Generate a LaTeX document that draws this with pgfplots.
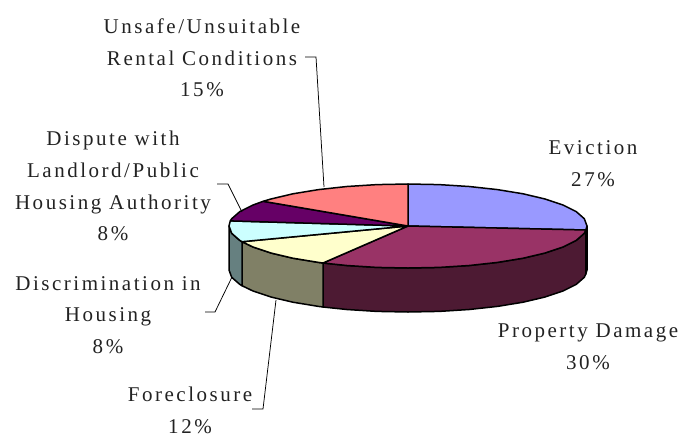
\documentclass[border=0pt]{standalone}
\usepackage{pgfplots}
\pgfplotsset{compat=1.18}
\usepackage{fontspec}
\setmainfont[LetterSpace=12]{Liberation Serif}
\definecolor{eviction}{HTML}{9999FF}
\definecolor{damage}{HTML}{993366}
\definecolor{foreclosure}{HTML}{FFFFCC}
\definecolor{discrim}{HTML}{CCFFFF}
\definecolor{dispute}{HTML}{660066}
\definecolor{unsafe}{HTML}{FF8080}
\definecolor{evictionside}{HTML}{4C4C80}
\definecolor{damageside}{HTML}{4D1A33}
\definecolor{foreclosureside}{HTML}{808066}
\definecolor{discrimside}{HTML}{668080}
\definecolor{labeltext}{HTML}{222222}
\tikzset{lab/.style={font=\fontsize{21}{31.7}\selectfont, text=labeltext, align=center, anchor=center, inner sep=0pt}}
\begin{document}
\begin{tikzpicture}
\path[use as bounding box] (0,0) rectangle (685pt,437pt);
\begin{axis}[
    at={(0,0)}, anchor=south west,
    scale only axis,
    width=685pt, height=437pt,
    xmin=0, xmax=685,
    ymin=0, ymax=437,
    y dir=reverse,
    hide axis,
    clip=false,
    no marks,
    pie/.style={draw=black, line width=1.5pt, line join=round},
    leader/.style={draw=black, line width=0.75pt},
]
% side walls
\addplot[pie, fill=evictionside] coordinates {(587,226) (585.8,230) (585.8,274) (587,270)} --cycle;
\addplot[pie, fill=damageside] coordinates {
  (585.8,230) (584.3,233.3) (576.2,240.4) (563,247) (545.1,253) (523.1,258.2) (497.5,262.4)
  (469.2,265.5) (439.1,267.4) (408,268) (376.9,267.4) (346.8,265.5) (323,263)
  (323,307) (346.8,309.5) (376.9,311.4) (408,312) (439.1,311.4) (469.2,309.5) (497.5,306.4)
  (523.1,302.2) (545.1,297) (563,291) (576.2,284.4) (584.3,277.3) (585.8,274)} --cycle;
\addplot[pie, fill=foreclosureside] coordinates {
  (323,263) (318.5,262.4) (292.9,258.2) (270.9,253) (253,247) (242,241.7)
  (242,285.7) (253,291) (270.9,297) (292.9,302.2) (318.5,306.4) (323,307)} --cycle;
\addplot[pie, fill=discrimside] coordinates {
  (242,241.7) (239.8,240.4) (231.7,233.3) (229,226)
  (229,270) (231.7,277.3) (239.8,284.4) (242,285.7)} --cycle;
% top wedges
\addplot[pie, fill=eviction] coordinates {
  (408,226) (408,184) (439.1,184.6) (469.2,186.5) (497.5,189.6) (523.1,193.8) (545.1,199)
  (563,205) (576.2,211.6) (584.3,218.7) (587,226) (585.8,230)} --cycle;
\addplot[pie, fill=damage] coordinates {
  (408,226) (585.8,230) (584.3,233.3) (576.2,240.4) (563,247) (545.1,253) (523.1,258.2)
  (497.5,262.4) (469.2,265.5) (439.1,267.4) (408,268) (376.9,267.4) (346.8,265.5) (323,263)} --cycle;
\addplot[pie, fill=foreclosure] coordinates {
  (408,226) (323,263) (318.5,262.4) (292.9,258.2) (270.9,253) (253,247) (242,241.7)} --cycle;
\addplot[pie, fill=discrim] coordinates {
  (408,226) (242,241.7) (239.8,240.4) (231.7,233.3) (229,226) (230.3,220.9)} --cycle;
\addplot[pie, fill=dispute] coordinates {
  (408,226) (230.3,220.9) (231.7,218.7) (239.8,211.6) (253,205) (263.2,201.3)} --cycle;
\addplot[pie, fill=unsafe] coordinates {
  (408,226) (263.2,201.3) (270.9,199) (292.9,193.8) (318.5,189.6) (346.8,186.5) (376.9,184.6) (408,184)} --cycle;
% leader lines
\addplot[leader] coordinates {(305,57) (316,57) (324,187)};
\addplot[leader] coordinates {(217,184) (228,184) (242,212)};
\addplot[leader] coordinates {(205,312) (215,312) (232,277)};
\addplot[leader] coordinates {(252,409) (263,409) (276,300)};
% labels
\node[lab] at (axis cs:202,58) {Unsafe/Unsuitable\\Rental Conditions\\15\%};
\node[lab] at (axis cs:593,164) {Eviction\\27\%};
\node[lab] at (axis cs:113,186) {Dispute with\\Landlord/Public\\Housing Authority\\8\%};
\node[lab] at (axis cs:108,315) {Discrimination in\\Housing\\8\%};
\node[lab] at (axis cs:588,347) {Property Damage\\30\%};
\node[lab] at (axis cs:190,410) {Foreclosure\\12\%};
\end{axis}
\end{tikzpicture}
\end{document}
